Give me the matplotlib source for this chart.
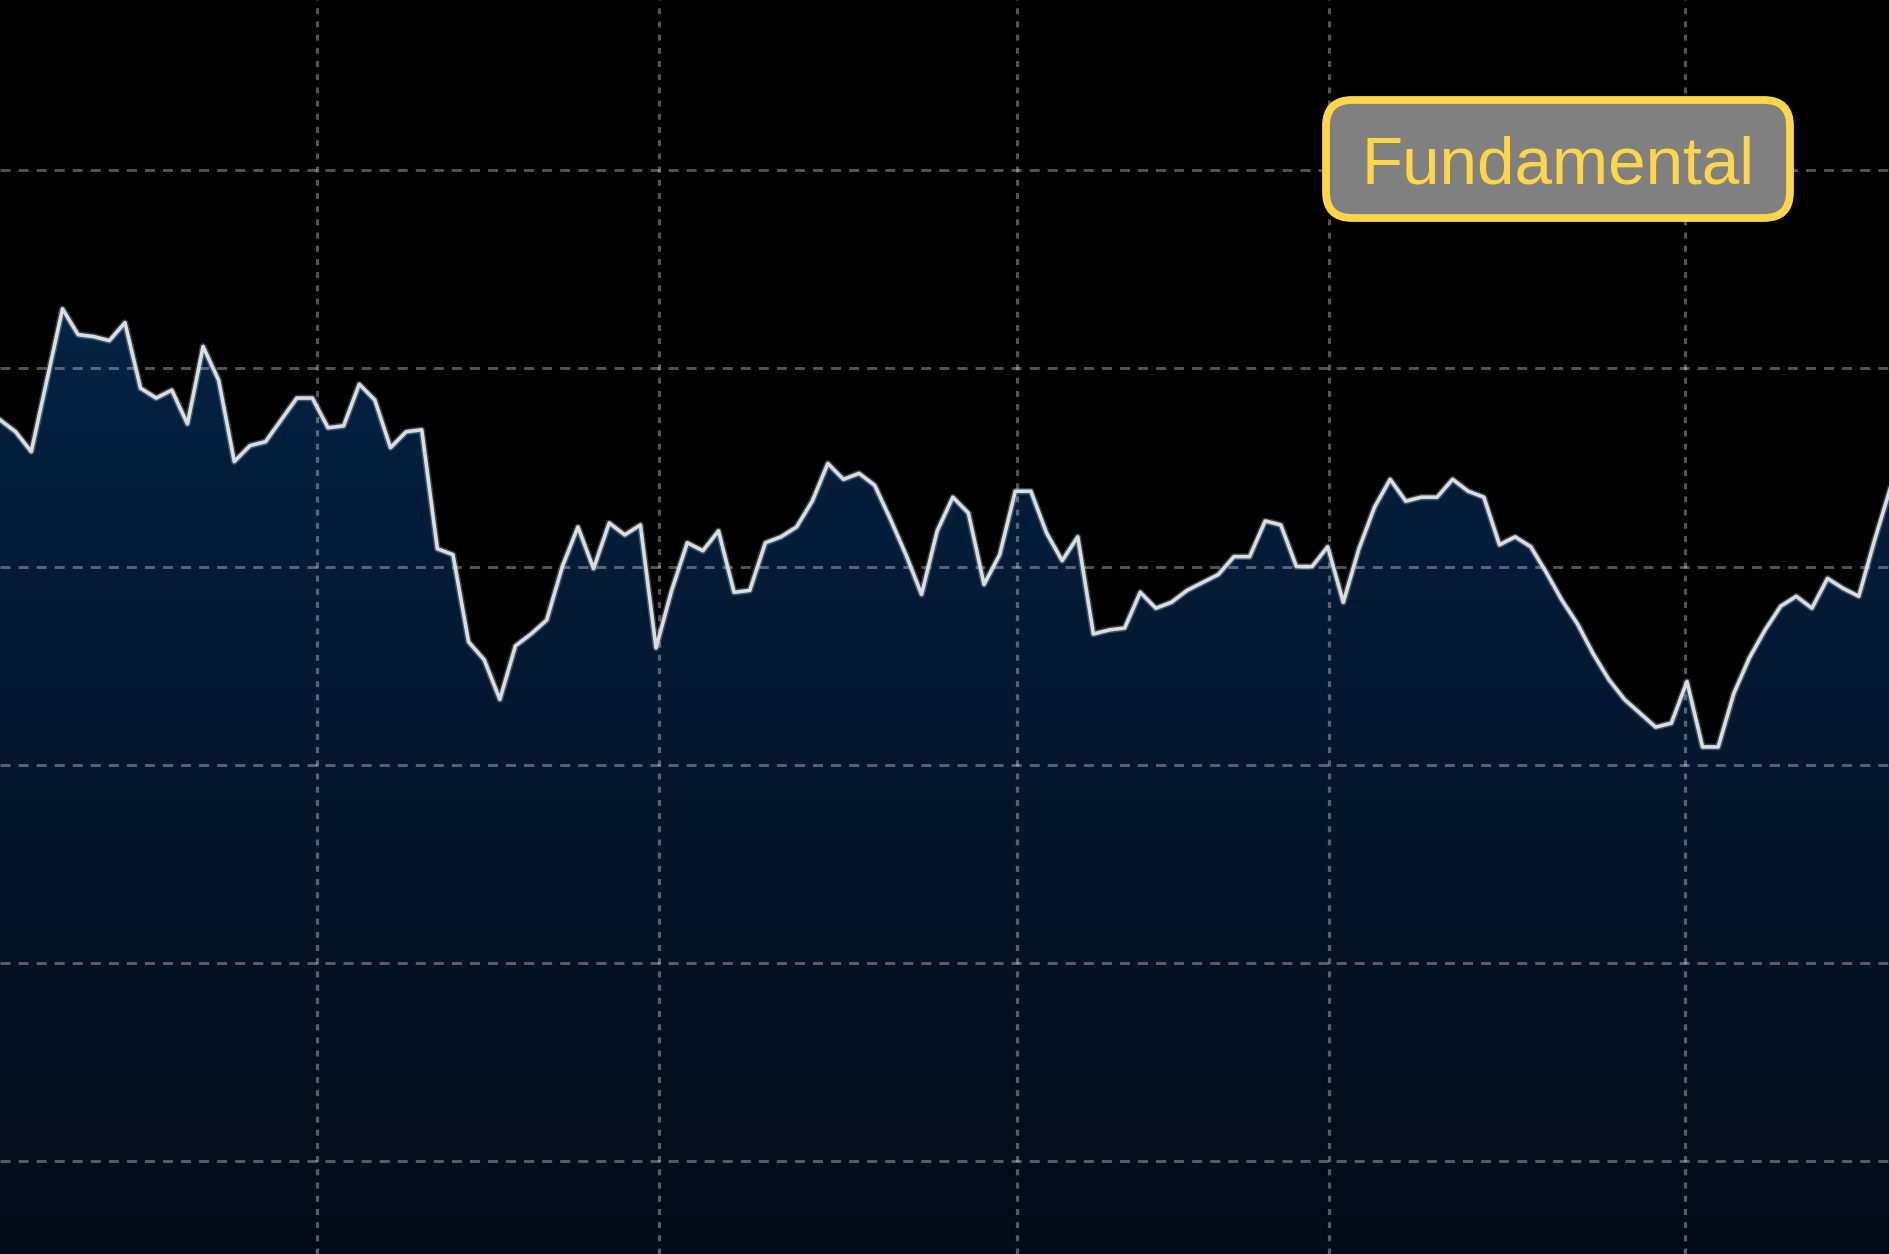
import numpy as np
import matplotlib
matplotlib.use("Agg")
import matplotlib.pyplot as plt
from matplotlib.patches import FancyBboxPatch
from matplotlib.transforms import IdentityTransform

plt.rcParams['lines.scale_dashes'] = False

# ---- data ----
values = [
    37.4, 36.8, 35.8, 39.4, 43.0, 41.7, 41.6, 41.4, 42.3, 39.0,
    38.5, 38.9, 37.2, 41.1, 39.4, 35.3, 36.1, 36.3, 37.4, 38.5,
    38.5, 37.0, 37.1, 39.2, 38.4, 36.0, 36.8, 36.9, 30.9, 30.6,
    26.2, 25.3, 23.3, 26.0, 26.6, 27.3, 30.0, 32.0, 29.9, 32.2,
    31.6, 32.1, 25.9, 28.8, 31.2, 30.8, 31.8, 28.7, 28.8, 31.2,
    31.5, 32.0, 33.3, 35.2, 34.4, 34.7, 34.1, 32.4, 30.6, 28.6,
    31.8, 33.5, 32.7, 29.1, 30.6, 33.8, 33.8, 31.7, 30.3, 31.5,
    26.6, 26.8, 26.9, 28.7, 27.9, 28.2, 28.8, 29.2, 29.6, 30.5,
    30.5, 32.3, 32.1, 30.0, 30.0, 31.0, 28.2, 30.9, 33.0, 34.4,
    33.3, 33.5, 33.5, 34.4, 33.8, 33.5, 31.1, 31.5, 31.0, 29.7,
    28.3, 27.1, 25.6, 24.3, 23.3, 22.6, 21.9, 22.1, 24.2, 20.9,
    20.9, 23.6, 25.4, 26.8, 28.0, 28.5, 27.9, 29.4, 28.9, 28.5,
    31.3, 33.9,
]
month_starts = [20.3, 42.2, 65.1, 85.1, 107.9]
y_grid = [0, 10, 20, 30, 40, 50]
label_text = "Fundamental"

W, H, DPI = 1890, 1254, 100
fig = plt.figure(figsize=(W / DPI, H / DPI), dpi=DPI, facecolor="black")
ax = fig.add_axes([0, 0, 1, 1])
ax.set_facecolor("black")
for s in ax.spines.values():
    s.set_visible(False)
ax.set_xticks([])
ax.set_yticks([])

x = np.arange(len(values))
y = np.array(values)
ymin, ymax = -4.68, 58.58
ax.set_xlim(0, len(values) - 1)
ax.set_ylim(ymin, ymax)

# gradient fill under the line
poly = ax.fill_between(x, y, ymin, color="none", lw=0)
top_c = np.array([4, 34, 66]) / 255
bot_c = np.array([3, 11, 24]) / 255
n = 256
t = np.linspace(0, 1, n)[:, None]
grad = top_c[None, :] * (1 - t) + bot_c[None, :] * t
grad = np.repeat(grad[:, None, :], 2, axis=1)
top_val = y.max()
im = ax.imshow(grad, extent=[0, len(values) - 1, ymin, top_val], aspect="auto",
               origin="upper", zorder=1, interpolation="bilinear")
path = poly.get_paths()[0]
im.set_clip_path(path, transform=ax.transData)

# grid lines
for gy in y_grid:
    ax.axhline(gy, color="white", alpha=0.33, lw=2.1, zorder=2,
               dashes=(7.2, 5.8))
for gx in month_starts:
    ax.axvline(gx, color="white", alpha=0.33, lw=2.3, zorder=2,
               dashes=(4.3, 5.2))

# the line
ax.plot(x, y, color="#c8d2dc", lw=4.8, alpha=0.3, zorder=3,
        solid_joinstyle="round")
ax.plot(x, y, color="#d8dee4", lw=2.6, zorder=4, solid_joinstyle="round")

# label box (display pixel coordinates)
bx0, bx1 = 1326, 1790
by0, by1 = H - 218, H - 100
box = FancyBboxPatch((bx0, by0), bx1 - bx0, by1 - by0,
                     boxstyle="round,pad=0,rounding_size=26",
                     transform=IdentityTransform(), facecolor="#808080",
                     edgecolor="#ffd54a", linewidth=5.6, zorder=10)
fig.patches.append(box)
fig.text((bx0 + bx1) / 2 / W, (by0 + by1) / 2 / H, label_text,
         color="#ffd54a", fontsize=48.5, family=["Liberation Sans", "DejaVu Sans"],
         ha="center", va="center_baseline", zorder=11)

fig.savefig("out.png", dpi=DPI, facecolor="black")
